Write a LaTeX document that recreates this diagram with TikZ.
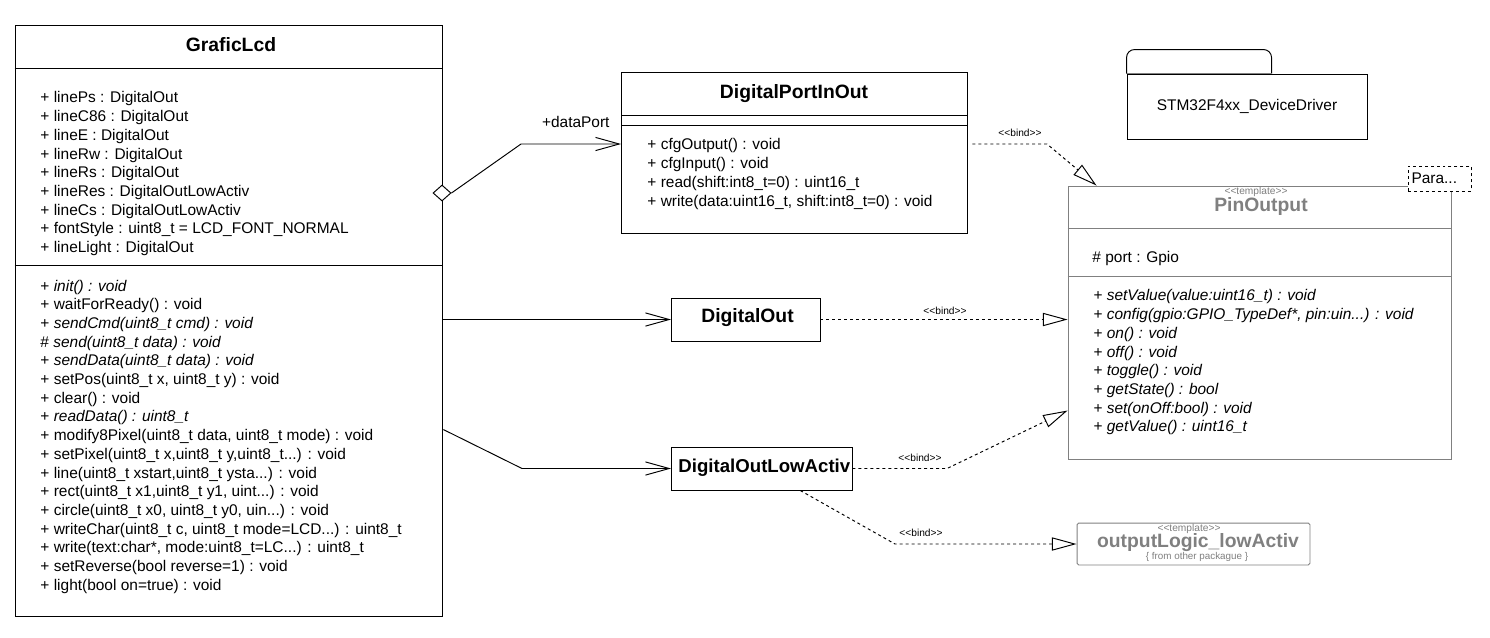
\documentclass[tikz,border=0pt]{standalone}
\usepackage{fontspec}
\setmainfont{Liberation Sans}
\usetikzlibrary{arrows.meta,shapes.geometric,calc}
\definecolor{umlgrey}{RGB}{128,128,128}
\newcommand{\umlstereo}[1]{<\kern0pt<#1>\kern0pt>}

\begin{document}
\begin{tikzpicture}[x=0.02cm, y=-0.02cm, line width=0.55pt,
  classbox/.style={draw, fill=white, inner sep=0pt},
  greybox/.style={draw=umlgrey, fill=white, inner sep=0pt},
  classname/.style={font=\fontsize{11}{13}\selectfont\bfseries, inner sep=0pt},
  members/.style={font=\fontsize{8.8}{10.65}\selectfont, align=left, anchor=north west, inner sep=0pt},
  tinytext/.style={font=\fontsize{5.8}{6}\selectfont, inner sep=0pt},
  assoc/.style={-{Straight Barb[length=13.5pt,width=7.5pt]}},
  bind/.style={dash pattern=on 1.7pt off 1.7pt, -{Triangle[open,length=14pt,width=7.5pt]}},
  aggdiamond/.style={diamond, draw, fill=white, inner sep=0pt, minimum width=0.36cm, minimum height=0.32cm},
]
  \useasboundingbox (0,0) rectangle (1490,637);

  % GraficLcd
  \node[classbox, minimum width=8.56cm, minimum height=11.84cm] (lcd) at (229,321) {};
  \node[classname] (lcdname) at (231,45) {GraficLcd};
  \draw ([yshift=-0.88cm]lcd.north west) -- ([yshift=-0.88cm]lcd.north east);
  \draw ([yshift=-4.82cm]lcd.north west) -- ([yshift=-4.82cm]lcd.north east);
  \node[members] (lcdattr) at (40,91.3) {+ linePs : DigitalOut\\
    + lineC86 : DigitalOut\\
    + lineE : DigitalOut\\
    + lineRw : DigitalOut\\
    + lineRs : DigitalOut\\
    + lineRes : DigitalOutLowActiv\\
    + lineCs : DigitalOutLowActiv\\
    + fontStyle : uint8\_t = LCD\_FONT\_NORMAL\\
    + lineLight : DigitalOut};
  \node[members] (lcdops) at (40,279.3) {+ \textit{init() : void}\\
    + waitForReady() : void\\
    + \textit{sendCmd(uint8\_t cmd) : void}\\
    \# \textit{send(uint8\_t data) : void}\\
    + \textit{sendData(uint8\_t data) : void}\\
    + setPos(uint8\_t x, uint8\_t y) : void\\
    + clear() : void\\
    + \textit{readData() : uint8\_t}\\
    + modify8Pixel(uint8\_t data, uint8\_t mode) : void\\
    + setPixel(uint8\_t x,uint8\_t y,uint8\_t...) : void\\
    + line(uint8\_t xstart,uint8\_t ysta...) : void\\
    + rect(uint8\_t x1,uint8\_t y1, uint...) : void\\
    + circle(uint8\_t x0, uint8\_t y0, uin...) : void\\
    + writeChar(uint8\_t c, uint8\_t mode=LCD...) : uint8\_t\\
    + write(text:char*, mode:uint8\_t=LC...) : uint8\_t\\
    + setReverse(bool reverse=1) : void\\
    + light(bool on=true) : void};

  % DigitalPortInOut
  \node[classbox, minimum width=6.93cm, minimum height=3.23cm] (dpin) at (794.75,152.75) {};
  \node[classname] (dpinname) at (794,94) {DigitalPortInOut};
  \draw ([yshift=-0.88cm]dpin.north west) -- ([yshift=-0.88cm]dpin.north east);
  \draw ([yshift=-1.08cm]dpin.north west) -- ([yshift=-1.08cm]dpin.north east);
  \node[members] (dpinops) at (647,138.3) {+ cfgOutput() : void\\
    + cfgInput() : void\\
    + read(shift:int8\_t=0) : uint16\_t\\
    + write(data:uint16\_t, shift:int8\_t=0) : void};

  % DigitalOut, DigitalOutLowActiv
  \node[classbox, minimum width=2.97cm, minimum height=0.86cm] (dout) at (745.75,319.5) {};
  \node[classname] (doutname) at (747.5,317.5) {DigitalOut};
  \node[classbox, minimum width=3.61cm, minimum height=0.86cm] (dlow) at (761.75,468.5) {};
  \node[classname, font=\fontsize{10.6}{12}\selectfont\bfseries, anchor=west] (dlowname) at (678,467.5) {DigitalOutLowActiv};

  % PinOutput template
  \node[greybox, minimum width=7.66cm, minimum height=5.46cm] (pin) at (1259.5,322.5) {};
  \node[tinytext, text=umlgrey] (pinstereo) at (1256,192) {\umlstereo{template}};
  \node[classname, text=umlgrey] (pinname) at (1261,206) {PinOutput};
  \draw[umlgrey] ([yshift=-0.86cm]pin.north west) -- ([yshift=-0.86cm]pin.north east);
  \draw[umlgrey] ([yshift=-1.82cm]pin.north west) -- ([yshift=-1.82cm]pin.north east);
  \node[members] (pinattr) at (1092,251.3) {\# port : Gpio};
  \node[members] (pinops) at (1093,289.3) {+ \textit{setValue(value:uint16\_t) : void}\\
    + \textit{config(gpio:GPIO\_TypeDef*, pin:uin...) : void}\\
    + \textit{on() : void}\\
    + \textit{off() : void}\\
    + \textit{toggle() : void}\\
    + \textit{getState() : bool}\\
    + \textit{set(onOff:bool) : void}\\
    + \textit{getValue() : uint16\_t}};
  \node[classbox, dash pattern=on 1.7pt off 1.7pt, minimum width=1.26cm, minimum height=0.5cm] (para) at (1439.5,178.5) {};
  \node[members, anchor=west] (paratext) at (1411,178) {Para...};

  % outputLogic_lowActiv
  \node[greybox, rounded corners=1pt, minimum width=4.66cm, minimum height=0.84cm] (olog) at (1193.5,544) {};
  \node[tinytext, text=umlgrey] (ologstereo) at (1189,529) {\umlstereo{template}};
  \node[classname, text=umlgrey] (ologname) at (1198,543) {outputLogic\_lowActiv};
  \node[tinytext, font=\fontsize{5.6}{6}\selectfont, text=umlgrey] (ologpkg) at (1197,557) {\{ from other packague \}};

  % package
  \node[draw, minimum width=4.8cm, minimum height=1.3cm, font=\fontsize{8.8}{10.65}\selectfont] (pkg) at (1247,106.5) {STM32F4xx\_DeviceDriver};
  \draw[rounded corners=0.16cm] (pkg.north west) -- ++(0,-24) -- ++(145,0) -- ++(0,24);
  \draw[umlgrey] (pkg.north west) -- ++(145,0);

  % associations
  \node[aggdiamond] (lcdagg) at (442,193) {};
  \coordinate (dpbend) at (521,144);
  \draw[assoc] (lcdagg.east) -- (dpbend) -- (dpin.west |- dpbend);
  \node[members, anchor=east] (dplabel) at (610,122) {+dataPort};
  \draw[assoc] (lcd.east |- dout.west) -- (dout.west);
  \coordinate (lowbend) at (522,468.5);
  \draw[assoc] ($(lcd.north east)+(0,405)$) -- (lowbend) -- (dlow.west);

  % bindings
  \coordinate (dpbindbend) at (1047,144);
  \draw[bind] ([xshift=0.08cm]dpin.east |- dpbend) -- (dpbindbend) -- ([xshift=0.58cm]pin.north west);
  \node[tinytext] (bind1) at (1020,133) {\umlstereo{bind}};
  \draw[bind] (dout.east) -- (pin.west |- dout.east);
  \node[tinytext] (bind2) at (945,311) {\umlstereo{bind}};
  \coordinate (lowbindbend) at (947,468.5);
  \draw[bind] (dlow.east) -- (lowbindbend) -- ($(pin.north west)+(0,225)$);
  \node[tinytext] (bind3) at (920,458) {\umlstereo{bind}};
  \coordinate (ologbend) at (895,544);
  \draw[bind] ([xshift=0.77cm]dlow.south) -- (ologbend) -- (olog.west);
  \node[tinytext] (bind4) at (921,533) {\umlstereo{bind}};
\end{tikzpicture}
\end{document}
